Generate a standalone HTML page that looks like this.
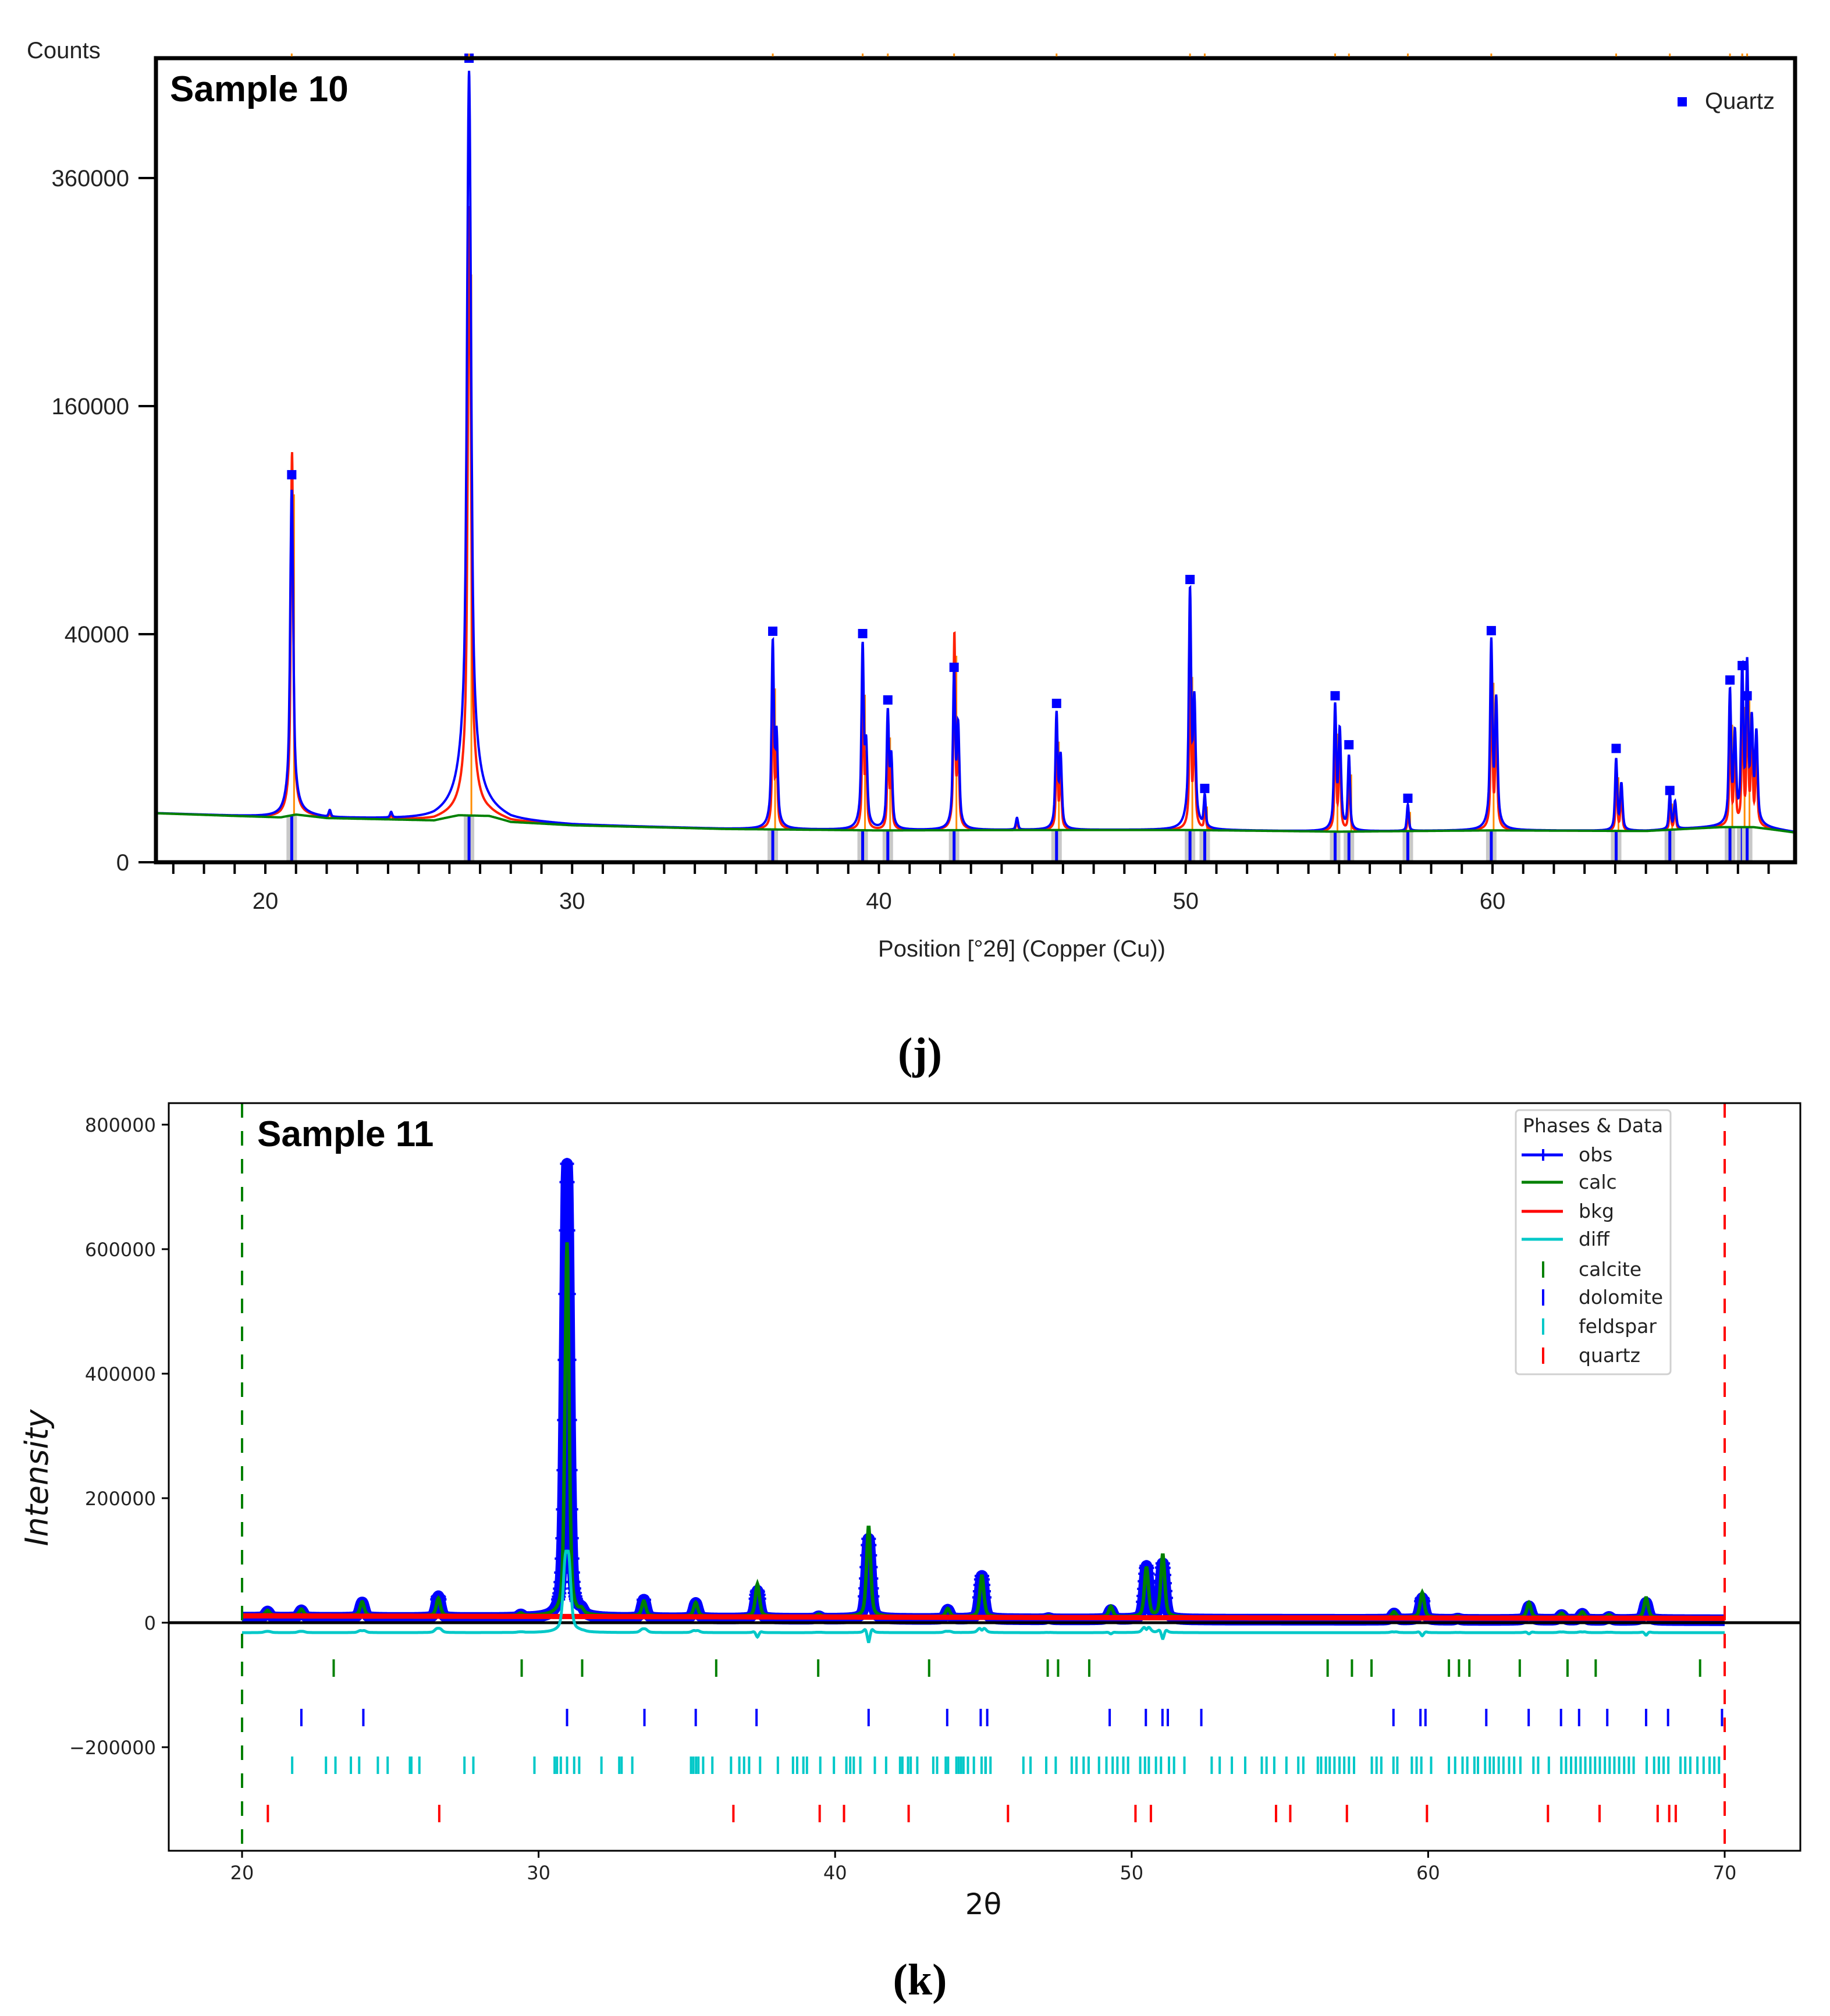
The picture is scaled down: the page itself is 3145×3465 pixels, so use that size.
<!DOCTYPE html>
<html><head><meta charset="utf-8">
<style>
html,body{margin:0;padding:0;background:#fff;}
svg{display:block;}
</style></head>
<body>
<svg id="fig" width="3145" height="3465" viewBox="0 0 3145 3465" xmlns="http://www.w3.org/2000/svg">
<rect x="0" y="0" width="3145" height="3465" fill="#fff"/>
<g id="c1"></g>
<g id="c2"></g>
<text x="1581" y="1836" text-anchor="middle" font-family="Liberation Serif, serif" font-weight="bold" font-size="76">(j)</text>
<text x="1581" y="3428" text-anchor="middle" font-family="Liberation Serif, serif" font-weight="bold" font-size="76">(k)</text>
</svg>
<script>
// ===== Chart 1 data (Sample 10) =====
const s10QuartzPos = [20.86,26.64,36.54,39.47,40.29,42.45,45.79,50.14,50.62,54.87,55.32,57.24,59.96,64.03,65.78,67.74,68.14,68.30];
const s10ObsHeights = [105000,480000,37000,36000,17000,27000,16500,57000,2500,18500,8000,1800,37500,7500,2800,22000,29000,30000];
const s10CalcHeights = [128000,330000,28000,26000,14000,40000,13000,32000,2000,15000,6500,1500,30000,6000,2300,17000,22000,24000];
const s10ExtraPos = [22.1,24.1,44.5,36.66,39.58,40.40,42.58,45.92,50.28,55.02,60.12,64.20,65.95,67.90,68.45,68.60];
const s10ExtraHeights = [500,400,700,12000,10000,8000,14000,8000,20000,13000,20000,4000,2000,12000,15000,12000];
const s10BkgX = [16.4,19,20.5,21,22,25.5,26.3,27.3,28,30,35,40,45,50,55,60,65,67.5,68.5,70];
const s10BkgY = [1850,1650,1550,1750,1500,1350,1700,1650,1250,1050,850,780,800,800,720,780,750,950,950,650];
const s10YTicks = [0,40000,160000,360000];
const s10XTicks = [20,30,40,50,60];
const s10QuartzMarkers = [110000,500000,37800,37000,18000,26500,17200,57500,3200,19000,9000,2300,38000,8400,3000,23000,27000,19000];

// ===== Chart 2 data (Sample 11) =====
const s11PeakPos = [20.86,22.0,24.05,26.62,29.4,30.96,31.45,33.55,35.3,37.38,39.45,41.13,43.8,44.95,47.2,49.3,50.5,51.05,58.85,59.8,61.0,63.4,64.5,65.2,66.1,67.35];
const s11ObsHeights = [10000,12000,25000,35000,5000,730000,8000,30000,25000,45000,4000,130000,15000,70000,2000,15000,85000,90000,10000,35000,2000,22000,8000,10000,5000,28000];
const s11CalcHeights = [8000,10000,22000,28000,4000,600000,7000,24000,22000,52000,3500,145000,13000,66000,1800,17000,80000,100000,9000,40000,1800,24000,7000,9000,4500,32000];
const s11BkgX = [20,30,40,50,60,70];
const s11BkgY = [11000,10000,9000,8000,7500,7000];
const s11YTicks = [800000,600000,400000,200000,0,-200000];
const s11YLabels = ["800000","600000","400000","200000","0","\u2212200000"];
const s11XTicks = [20,30,40,50,60,70];
const calcitePos = [23.09,29.43,31.47,35.99,39.43,43.17,47.17,47.52,48.57,56.61,57.43,58.09,60.70,61.04,61.39,63.09,64.70,65.65,69.17];
const dolomitePos = [22.0,24.09,30.96,33.57,35.30,37.35,41.13,43.78,44.91,45.13,49.26,50.48,51.04,51.22,52.35,58.83,59.74,59.91,61.96,63.39,64.48,65.09,66.04,67.35,68.09,69.91];
const quartzPos = [20.87,26.65,36.57,39.48,40.30,42.48,45.83,50.13,50.65,54.87,55.35,57.26,59.96,64.04,65.78,67.74,68.13,68.35];
const feldsparPos = [21.69,22.83,23.15,23.67,23.95,24.58,24.91,25.66,25.71,25.98,27.50,27.80,29.86,30.54,30.62,30.75,30.96,31.20,31.37,32.12,32.72,32.80,33.16,35.14,35.22,35.31,35.39,35.55,35.86,36.49,36.77,36.93,37.10,37.47,38.07,38.58,38.72,38.93,39.05,39.50,39.96,40.38,40.51,40.63,40.85,41.34,41.72,42.19,42.27,42.46,42.55,42.77,43.31,43.44,43.73,43.81,44.09,44.17,44.25,44.33,44.48,44.68,44.94,45.07,45.08,45.24,46.35,46.59,47.12,47.44,47.98,48.14,48.38,48.55,48.90,49.15,49.36,49.52,49.72,49.88,50.29,50.45,50.58,50.82,50.99,51.26,51.43,51.78,52.70,52.97,53.38,53.83,54.39,54.55,54.81,55.22,55.62,55.79,56.28,56.39,56.55,56.68,56.84,57.01,57.17,57.33,57.50,58.10,58.26,58.42,58.83,58.96,59.45,59.61,59.77,60.10,60.70,60.91,61.16,61.32,61.56,61.68,61.92,62.08,62.21,62.38,62.54,62.73,62.90,63.11,63.55,63.71,64.07,64.49,64.65,64.82,64.98,65.14,65.30,65.47,65.63,65.79,65.96,66.12,66.28,66.44,66.61,66.77,66.93,67.37,67.62,67.78,67.94,68.10,68.51,68.67,68.84,69.08,69.29,69.49,69.65,69.81];

const NS = "http://www.w3.org/2000/svg";
function mk(parent, tag, attrs, text){
  const e = document.createElementNS(NS, tag);
  for (const k in attrs) e.setAttribute(k, attrs[k]);
  if (text !== undefined) e.textContent = text;
  parent.appendChild(e);
  return e;
}
function interp(xs, ys, x){
  if (x <= xs[0]) return ys[0];
  for (let i=1;i<xs.length;i++){ if (x <= xs[i]){ const t=(x-xs[i-1])/(xs[i]-xs[i-1]); return ys[i-1]+t*(ys[i]-ys[i-1]); } }
  return ys[ys.length-1];
}
function lor(x, c, h, g){ const d=x-c; return h*g*g/(d*d+g*g); }
function pv(x, c, h, g){ const d=x-c; return 0.5*h*g*g/(d*d+g*g) + 0.5*h*Math.exp(-0.693*d*d/(g*g)); }

// ================= Chart 1 =================
(function(){
  const g = document.getElementById('c1');
  const L=268,R=3085,T=100,B=1482;
  const X = d => 456 + (d-20)*52.725;
  const Y = v => B - 1.96*Math.sqrt(Math.max(0,v));
  const clip = mk(g,'clipPath',{id:'clip1'});
  mk(clip,'rect',{x:L,y:T,width:R-L,height:B-T});
  const pg = mk(g,'g',{'clip-path':'url(#clip1)'});
  
  
  s10QuartzPos.forEach((p,i)=>{
    const bv = interp(s10BkgX,s10BkgY,p);
    const r = mk(pg,'rect',{x:X(p)-9,y:Y(bv),width:18,height:B-Y(bv),fill:'#c8c8c8'});
    
    
    const s = mk(pg,'line',{x1:X(p),x2:X(p),y1:B,y2:Y(bv),stroke:'#0000ff','stroke-width':5});
    
    
  });
  const step=0.008;
  let obs=[], calc=[], bkg=[];
  for (let d=16.4; d<=70.0; d+=step){
    const bv = interp(s10BkgX,s10BkgY,d);
    let o=bv, c=bv;
    s10QuartzPos.forEach((p,i)=>{
      const gw = (i===1)?0.06:(i===0?0.045:0.035);
      o += pv(d,p,s10ObsHeights[i],gw);
      c += pv(d,p+0.01,s10CalcHeights[i],gw*0.75);
    });
    s10ExtraPos.forEach((p,i)=>{ o += pv(d,p,s10ExtraHeights[i],0.04); c += pv(d,p,s10ExtraHeights[i]*0.8,0.03); });
    obs.push(X(d).toFixed(1)+','+Y(o).toFixed(1));
    calc.push(X(d).toFixed(1)+','+Y(c).toFixed(1));
    bkg.push(X(d).toFixed(1)+','+Y(bv).toFixed(1));
  }
  s10QuartzPos.forEach((p,i)=>{
    const bv = interp(s10BkgX,s10BkgY,p);
    const o = mk(pg,'line',{x1:X(p)+4,x2:X(p)+4,y1:Y(bv),y2:Y(bv+s10CalcHeights[i]*0.8),stroke:'#ff8c00','stroke-width':3});
    
    
  });
  const rc = mk(pg,'polyline',{points:calc.join(' '),fill:'none',stroke:'#ff2000','stroke-width':4});
  
  
  const oc = mk(pg,'polyline',{points:obs.join(' '),fill:'none',stroke:'#0000ff','stroke-width':4});
  
  
  const bc = mk(pg,'polyline',{points:bkg.join(' '),fill:'none',stroke:'#008000','stroke-width':4});
  
  
  s10QuartzPos.forEach((p,i)=>{
    const yv = Y(s10QuartzMarkers[i]) - 8;
    const m = mk(g,'rect',{x:X(p)-8,y:Math.max(T-8,yv-16),width:16,height:16,fill:'#0000ff'});
    
    
  });
  const fr = mk(g,'rect',{x:L,y:T,width:R-L,height:B-T,fill:'none',stroke:'#000','stroke-width':7});
  
  
  s10QuartzPos.forEach(p=>{
    const t = mk(g,'line',{x1:X(p),x2:X(p),y1:T-8,y2:T-3,stroke:'#ff8c00','stroke-width':3});
    
    
  });
  s10YTicks.forEach(v=>{
    const t = mk(g,'line',{x1:L-30,x2:L,y1:Y(v),y2:Y(v),stroke:'#000','stroke-width':4});
    
    
    const lb = mk(g,'text',{x:222,y:Y(v)+14,'text-anchor':'end','font-family':'Liberation Sans, sans-serif','font-size':40,fill:'#222'},String(v));
    
    
  });
  for (let d=17; d<=69; d++){
    const t = mk(g,'line',{x1:X(d),x2:X(d),y1:B,y2:B+20,stroke:'#000','stroke-width':4});
    
    
  }
  s10XTicks.forEach(d=>{
    const lb = mk(g,'text',{x:X(d),y:1562,'text-anchor':'middle','font-family':'Liberation Sans, sans-serif','font-size':40,fill:'#222'},String(d));
    
    
  });
  const xt = mk(g,'text',{x:1756,y:1644,'text-anchor':'middle','font-family':'Liberation Sans, sans-serif','font-size':40,fill:'#222'},'Position [°2θ] (Copper (Cu))');
  
  
  const yt = mk(g,'text',{x:46,y:100,'font-family':'Liberation Sans, sans-serif','font-size':40,fill:'#222'},'Counts');
  
  
  const ti = mk(g,'text',{x:292,y:174,'font-family':'Liberation Sans, sans-serif','font-weight':'bold','font-size':62,fill:'#000'},'Sample 10');
  
  
  const lm = mk(g,'rect',{x:2883,y:167,width:16,height:16,fill:'#0000ff'});
  
  
  const lt = mk(g,'text',{x:2930,y:187,'font-family':'Liberation Sans, sans-serif','font-size':40,fill:'#222'},'Quartz');
  
  
})();

// ================= Chart 2 =================
(function(){
  const g = document.getElementById('c2');
  const L=290,R=3094,T=1896,B=3181;
  const X = d => 416 + (d-20)*50.96;
  const Y = v => 2789 - v*0.00107;
  const FF = 'DejaVu Sans, Liberation Sans, sans-serif';
  const step=0.02;
  let obs=[], calc=[], bkg=[], diff=[], marks=[];
  for (let d=20; d<=70.0001; d+=step){
    const bv = interp(s11BkgX,s11BkgY,d);
    let o=bv-3000, c=bv+1000;
    s11PeakPos.forEach((p,i)=>{
      o += pv(d,p,s11ObsHeights[i],0.09);
      c += pv(d,p,s11CalcHeights[i],0.08);
    });
    obs.push(X(d).toFixed(1)+','+Y(o).toFixed(1));
    calc.push(X(d).toFixed(1)+','+Y(c).toFixed(1));
    bkg.push(X(d).toFixed(1)+','+Y(bv).toFixed(1));
    diff.push(X(d).toFixed(1)+','+Y(o-c-12000).toFixed(1));
    if (o-bv > 25000) marks.push([X(d),Y(o)]);
  }
  const ob = mk(g,'polyline',{points:obs.join(' '),fill:'none',stroke:'#0000ff','stroke-width':20,'stroke-linejoin':'round'});
  
  
  const mp = marks.map(m=>`M${(m[0]-12).toFixed(1)},${m[1].toFixed(1)}h24M${m[0].toFixed(1)},${(m[1]-10).toFixed(1)}v20`).join('');
  const mpe = mk(g,'path',{d:mp,stroke:'#0000ff','stroke-width':4,fill:'none'});
  
  
  const ca = mk(g,'polyline',{points:calc.join(' '),fill:'none',stroke:'#008000','stroke-width':6});
  
  
  const bk = mk(g,'polyline',{points:bkg.join(' '),fill:'none',stroke:'#ff0000','stroke-width':9});
  
  
  const zl = mk(g,'line',{x1:L,x2:R,y1:Y(0),y2:Y(0),stroke:'#000','stroke-width':5});
  
  
  const df = mk(g,'polyline',{points:diff.join(' '),fill:'none',stroke:'#00c8c8','stroke-width':5});
  
  
  const rows = [[calcitePos,'#008000',2852,'calcite-tick'],[dolomitePos,'#0000ff',2937,'dolomite-tick'],[feldsparPos,'#00c8c8',3019,'feldspar-tick'],[quartzPos,'#ff0000',3102,'quartz-tick']];
  rows.forEach(r=>{
    r[0].forEach(p=>{
      const t = mk(g,'line',{x1:X(p),x2:X(p),y1:r[2],y2:r[2]+30,stroke:r[1],'stroke-width':4});
      
      
    });
  });
  const dl = mk(g,'line',{x1:X(20),x2:X(20),y1:T,y2:B,stroke:'#008000','stroke-width':4,'stroke-dasharray':'25 23'});
  
  
  const dr = mk(g,'line',{x1:X(70),x2:X(70),y1:T,y2:B,stroke:'#ff0000','stroke-width':4,'stroke-dasharray':'25 23'});
  
  
  const fr = mk(g,'rect',{x:L,y:T,width:R-L,height:B-T,fill:'none',stroke:'#000','stroke-width':3});
  
  
  s11YTicks.forEach((v,i)=>{
    const t = mk(g,'line',{x1:L-12,x2:L,y1:Y(v),y2:Y(v),stroke:'#000','stroke-width':3});
    
    
    const lb = mk(g,'text',{x:268,y:Y(v)+12,'text-anchor':'end','font-family':FF,'font-size':32,fill:'#222'},s11YLabels[i]);
    
    
  });
  s11XTicks.forEach(d=>{
    const t = mk(g,'line',{x1:X(d),x2:X(d),y1:B,y2:B+12,stroke:'#000','stroke-width':3});
    
    
    const lb = mk(g,'text',{x:X(d),y:3230,'text-anchor':'middle','font-family':FF,'font-size':32,fill:'#222'},String(d));
    
    
  });
  const xt = mk(g,'text',{x:1690,y:3290,'text-anchor':'middle','font-family':FF,'font-size':50,fill:'#111'},'2θ');
  
  
  const yt = mk(g,'text',{x:0,y:0,'text-anchor':'middle','font-family':FF,'font-style':'italic','font-size':54,fill:'#111',transform:'translate(82,2540) rotate(-90)'},'Intensity');
  
  
  const ti = mk(g,'text',{x:442,y:1970,'font-family':'Liberation Sans, sans-serif','font-weight':'bold','font-size':62,fill:'#000'},'Sample 11');
  
  
  const lg = mk(g,'g',{});
  
  
  mk(lg,'rect',{x:2605,y:1908,width:266,height:454,rx:6,fill:'#fff','fill-opacity':0.85,stroke:'#d0d0d0','stroke-width':3});
  const lt = mk(lg,'text',{x:2617,y:1946,'font-family':FF,'font-size':33,fill:'#222'},'Phases & Data');
  
  
  const ents = [['obs','#0000ff','line',1985],['calc','#008000','line',2032],['bkg','#ff0000','line',2082],['diff','#00c8c8','line',2130],['calcite','#008000','tick',2182],['dolomite','#0000ff','tick',2230],['feldspar','#00c8c8','tick',2280],['quartz','#ff0000','tick',2330]];
  ents.forEach(e=>{
    const eg = mk(lg,'g',{});
    
    
    if (e[2]==='line'){
      mk(eg,'line',{x1:2615,x2:2686,y1:e[3],y2:e[3],stroke:e[1],'stroke-width':5});
      if (e[0]==='obs') mk(eg,'line',{x1:2652,x2:2652,y1:e[3]-10,y2:e[3]+10,stroke:e[1],'stroke-width':4});
    } else {
      mk(eg,'line',{x1:2652,x2:2652,y1:e[3]-14,y2:e[3]+14,stroke:e[1],'stroke-width':4});
    }
    mk(eg,'text',{x:2713,y:e[3]+11,'font-family':FF,'font-size':33,fill:'#222'},e[0]);
  });
})();
</script>
</body></html>
